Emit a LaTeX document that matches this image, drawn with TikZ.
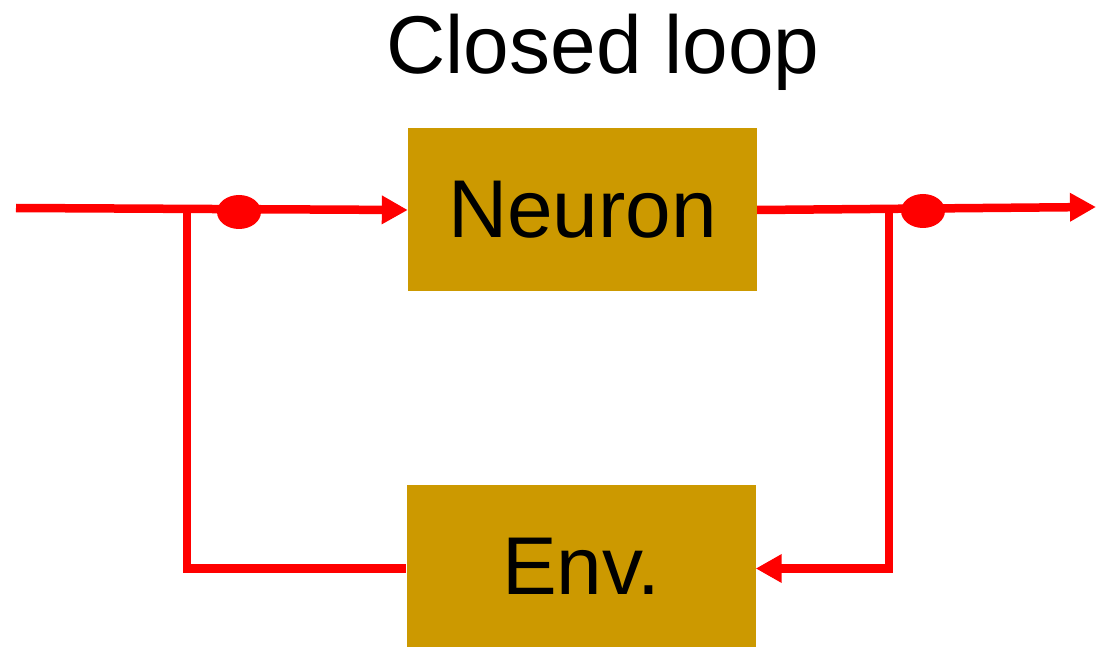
\documentclass[tikz,border=0pt]{standalone}
\usepackage{fontspec}
\setmainfont{Liberation Sans}
\usetikzlibrary{arrows.meta,shapes.geometric}
\definecolor{boxgold}{HTML}{CC9900}
\definecolor{wire}{HTML}{FF0000}
\begin{document}
\begin{tikzpicture}[x=1pt,y=-1pt,
  blockbox/.style={fill=boxgold,draw=none,inner sep=0pt,font=\fontsize{82}{98}\selectfont,
    minimum width=349pt,minimum height=163pt},
  wireline/.style={draw=wire,line width=8.5pt},
  wirearrow/.style={wireline,-{Triangle[length=26pt,width=27pt]}},
  junctiondot/.style={ellipse,fill=wire,draw=none,inner sep=0pt,minimum width=44pt,minimum height=34pt}]
\useasboundingbox (0,0) rectangle (1101,647);
\node[font=\fontsize{82}{98}\selectfont,anchor=base,inner sep=0pt] (title) at (603,74) {Closed loop};
\node[blockbox] (neuron) at (582.5,210) {Neuron};
\node[blockbox] (env) at (581,566) {Env.};
\coordinate (in) at (16,208);
\coordinate (out) at (1096,207);
\coordinate (j1) at (187,209);
\coordinate (j2) at (889,209);
\draw[wirearrow] (in) -- (neuron.west);
\draw[wireline] (j1) |- ([yshift=-2.5pt]env.west);
\draw[wirearrow] (neuron.east) -- (out);
\draw[wirearrow] (j2) |- ([yshift=-2.5pt]env.east);
\node[junctiondot] (dot1) at (239,212) {};
\node[junctiondot] (dot2) at (923,211) {};
\end{tikzpicture}
\end{document}
